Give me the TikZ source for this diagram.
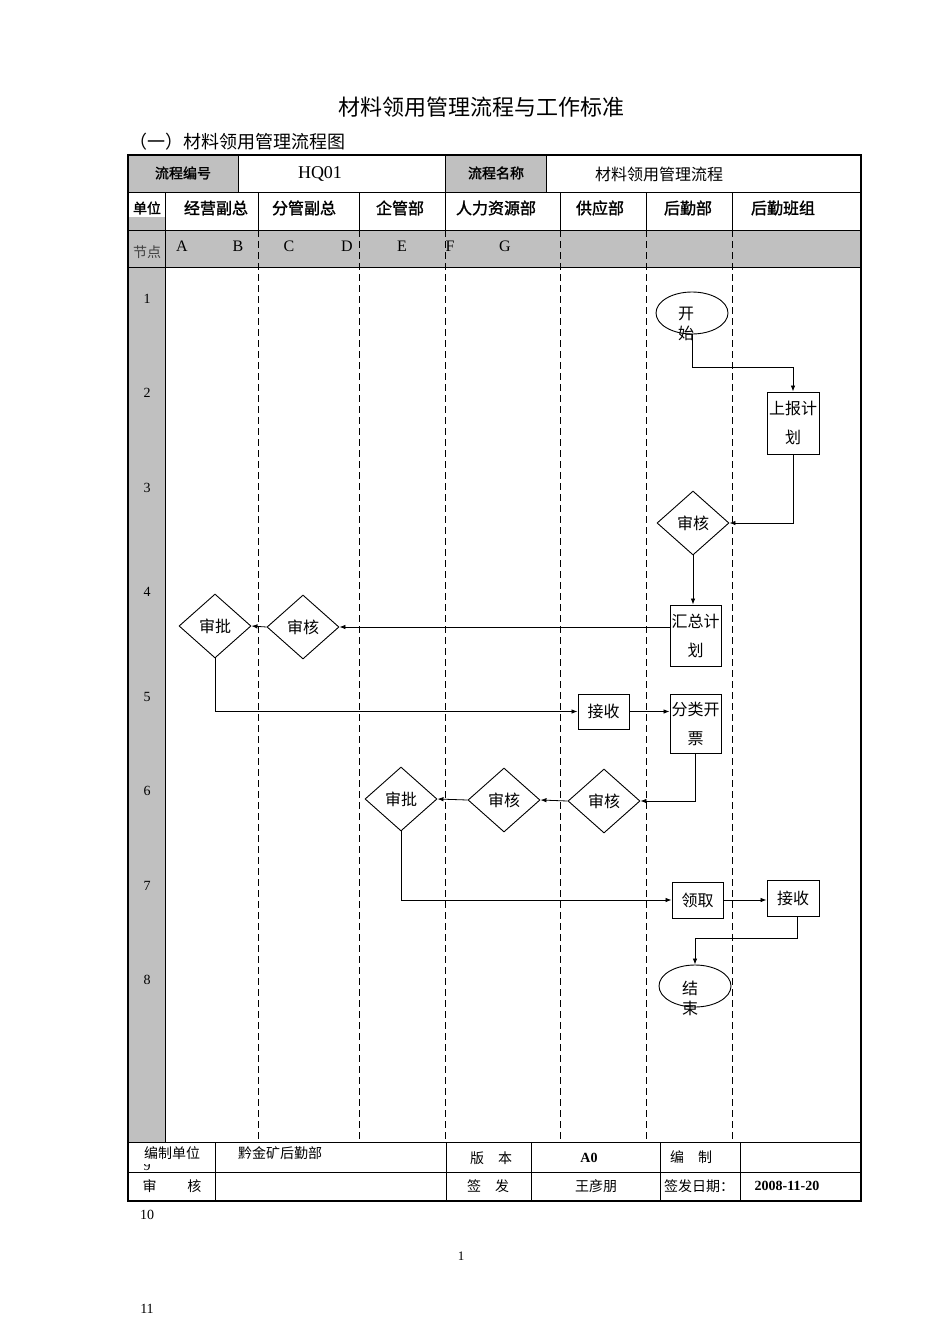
\documentclass[tikz,border=0pt]{standalone}
\usepackage{fontspec}
\setmainfont{Liberation Serif}
\newfontfamily\hei{Noto Sans CJK SC}[AutoFakeBold=1.5]
\usetikzlibrary{calc,shapes.geometric,arrows.meta}
\definecolor{cellgray}{RGB}{192,192,192}
\tikzset{
  lane/.style={dash pattern=on 7pt off 4pt,line width=0.9pt},
  rule/.style={line width=1pt},
  flow/.style={line width=0.8pt,-{Latex[length=6pt,width=4.5pt]}},
  box/.style={draw,line width=0.9pt,rectangle,inner sep=0pt,align=center,font=\hei\fontsize{16}{29}\selectfont},
  check/.style={draw,line width=0.9pt,diamond,inner sep=0pt,minimum width=72pt,minimum height=64pt,font=\hei\fontsize{16}{19}\selectfont},
  term/.style={draw,line width=0.9pt,ellipse,minimum width=72pt,minimum height=42pt},
  cjk/.style={font=\hei\fontsize{#1}{#1}\selectfont},
  lat/.style={font=\fontsize{#1}{#1}\selectfont},
}
\begin{document}
\begin{tikzpicture}[x=1pt,y=-1pt]
\useasboundingbox[fill=white] (0,0) rectangle (950,1344);
% titles
\node[cjk=22] (title) at (481,107) {材料领用管理流程与工作标准};
\node[cjk=18,anchor=west] (subtitle) at (126,142) {（一）材料领用管理流程图};
% grey cells
\fill[cellgray] (128,155) rectangle (238,192);
\fill[cellgray] (445,155) rectangle (546,192);
\fill[cellgray] (128,230) rectangle (861,267);
\fill[cellgray] (128,217) rectangle (165,1142);
% table rules
\draw[rule] (128,192) -- (861,192);
\draw[rule] (128,230) -- (861,230);
\draw[rule] (128,267) -- (861,267);
\draw[rule] (128,1172) -- (861,1172);
\draw[rule] (128,1142) -- (861,1142);
\foreach \x in {238,445,546} \draw[rule] (\x,155) -- (\x,192);
\foreach \x in {165,258,359,445,560,646,732} \draw[rule] (\x,192) -- (\x,230);
\draw[rule] (165,230) -- (165,1142);
\foreach \x in {258,359,445,560,646,732} \draw[lane] (\x,230) -- (\x,1142);
\foreach \x in {215,446,531,660,740} \draw[rule] (\x,1142) -- (\x,1201);
\draw[line width=1.8pt] (128,155) rectangle (861,1201);
% header texts
\node[cjk=14] (codehd) at (183,173) {\bfseries 流程编号};
\node[lat=18] (code) at (320,174) {HQ01};
\node[cjk=14] (namehd) at (496,173) {\bfseries 流程名称};
\node[cjk=16] (name) at (659,174) {材料领用管理流程};
\node[cjk=14] (unit) at (147,208) {\bfseries 单位};
\foreach \x/\t in {216/经营副总,304/分管副总,400/企管部,496/人力资源部,600/供应部,688/后勤部,783/后勤班组}
  \node[cjk=16] at (\x,208) {\bfseries\t};
\node[cjk=14,text=black!75] (nodehd) at (147,252) {节点};
\foreach \x/\t in {182/A,238/B,289/C,347/D,402/E,450/F,505/G}
  \node[lat=16] at (\x,246) {\t};
\foreach \n/\y in {1/299,2/393,3/488,4/592,5/697,6/791,7/886,8/980}
  \node[lat=14] at (147,\y) {\n};
\begin{scope}
  \clip (128,1164) rectangle (165,1172);
  \node[lat=14] (nine) at (147,1166) {9};
\end{scope}
% flow nodes
\node[term] (start) at (692,313) {};
\node[cjk=16,align=center,font=\hei\fontsize{16}{20}\selectfont] (startlbl) at (686,324) {开\\始};
\node[box,minimum width=52pt,minimum height=62pt] (report) at (793,423) {上报计\\划};
\node[check] (audit1) at (693,523) {审核};
\node[box,minimum width=51pt,minimum height=61pt] (sumplan) at (695.5,635.5) {汇总计\\划};
\node[check] (audit2) at (303,627) {审核};
\node[check] (approve1) at (215,626) {审批};
\node[box,minimum width=51pt,minimum height=35pt] (recv1) at (603.5,711.5) {接收};
\node[box,minimum width=51pt,minimum height=59pt] (classify) at (695.5,723.5) {分类开\\票};
\node[check] (audit3) at (604,801) {审核};
\node[check] (audit4) at (504,800) {审核};
\node[check] (approve2) at (401,799) {审批};
\node[box,minimum width=51pt,minimum height=36pt] (collect) at (697.5,900) {领取};
\node[box,minimum width=52pt,minimum height=36pt] (recv2) at (793,898) {接收};
\node[term] (finish) at (695,986) {};
\node[align=center,font=\hei\fontsize{16}{20}\selectfont] (finishlbl) at (690,998) {结\\束};
% connectors
\draw[flow] (start.south) -- ++(0,33) -| (report.north);
\draw[flow] (report.south) |- (audit1.east);
\draw[flow] (audit1.south) -- (audit1.south |- sumplan.north);
\draw[flow] (sumplan.west |- audit2.east) -- (audit2.east);
\draw[flow] (audit2.west) -- (approve1.east);
\draw[flow] (approve1.south) |- (recv1.west);
\draw[flow] (recv1.east) -- (classify.west |- recv1.east);
\draw[flow] (classify.south) |- (audit3.east);
\draw[flow] (audit3.west) -- (audit4.east);
\draw[flow] (audit4.west) -- (approve2.east);
\draw[flow] (approve2.south) |- (collect.west);
\draw[flow] (collect.east) -- (recv2.west |- collect.east);
\draw[flow] ($(recv2.south)+(4,0)$) -- ++(0,22) -| (finish.north);
% bottom table
\node[cjk=14] (madeby) at (172,1153) {编制单位};
\node[cjk=14] (dept) at (280,1153) {黔金矿后勤部};
\node[cjk=14] (verhd) at (491,1158) {版\hspace{1em}本};
\node[lat=14] (ver) at (589,1158) {\bfseries A0};
\node[cjk=14] (edithd) at (691,1157) {编\hspace{1em}制};
\node[cjk=14] (checkhd) at (172,1186) {审\hspace{2.2em}核};
\node[cjk=14] (signhd) at (488,1186) {签\hspace{1em}发};
\node[cjk=14] (signer) at (596,1186) {王彦朋};
\node[cjk=14] (datehd) at (699,1186) {签发日期：};
\node[lat=14] (date) at (787,1186) {\bfseries 2008-11-20};
% page foot
\node[lat=14] (ten) at (147,1215) {10};
\node[lat=13] (page) at (461,1256) {1};
\node[lat=14] (eleven) at (147,1309) {11};
\end{tikzpicture}
\end{document}
